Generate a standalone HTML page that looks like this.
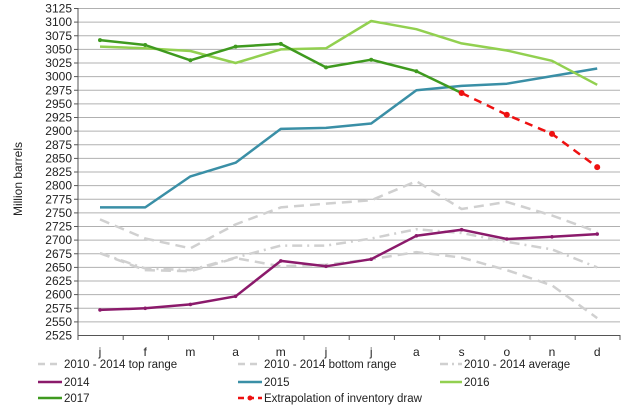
<!DOCTYPE html>
<html><head><meta charset="utf-8"><style>body{margin:0;background:#fff}svg{display:block;font-family:"Liberation Sans",sans-serif}</style></head><body>
<svg width="625" height="407" viewBox="0 0 625 407" xmlns="http://www.w3.org/2000/svg">
<g stroke="#b0b0b0" stroke-width="1">
<line x1="78" x2="620" y1="8.5" y2="8.5"/><line x1="78" x2="620" y1="22.1" y2="22.1"/><line x1="78" x2="620" y1="35.75" y2="35.75"/><line x1="78" x2="620" y1="49.4" y2="49.4"/><line x1="78" x2="620" y1="63" y2="63"/><line x1="78" x2="620" y1="76.6" y2="76.6"/><line x1="78" x2="620" y1="90.25" y2="90.25"/><line x1="78" x2="620" y1="103.9" y2="103.9"/><line x1="78" x2="620" y1="117.5" y2="117.5"/><line x1="78" x2="620" y1="131.1" y2="131.1"/><line x1="78" x2="620" y1="144.75" y2="144.75"/><line x1="78" x2="620" y1="158.4" y2="158.4"/><line x1="78" x2="620" y1="172" y2="172"/><line x1="78" x2="620" y1="185.6" y2="185.6"/><line x1="78" x2="620" y1="199.25" y2="199.25"/><line x1="78" x2="620" y1="212.9" y2="212.9"/><line x1="78" x2="620" y1="226.5" y2="226.5"/><line x1="78" x2="620" y1="240.1" y2="240.1"/><line x1="78" x2="620" y1="253.75" y2="253.75"/><line x1="78" x2="620" y1="267.4" y2="267.4"/><line x1="78" x2="620" y1="281" y2="281"/><line x1="78" x2="620" y1="294.6" y2="294.6"/><line x1="78" x2="620" y1="308.25" y2="308.25"/><line x1="78" x2="620" y1="321.9" y2="321.9"/>
</g>
<g stroke="#555" stroke-width="1">
<line x1="78" x2="78" y1="8" y2="336"/><line x1="78" x2="620" y1="335.5" y2="335.5"/>
<line x1="74" x2="78" y1="8.5" y2="8.5"/><line x1="74" x2="78" y1="22.1" y2="22.1"/><line x1="74" x2="78" y1="35.75" y2="35.75"/><line x1="74" x2="78" y1="49.4" y2="49.4"/><line x1="74" x2="78" y1="63" y2="63"/><line x1="74" x2="78" y1="76.6" y2="76.6"/><line x1="74" x2="78" y1="90.25" y2="90.25"/><line x1="74" x2="78" y1="103.9" y2="103.9"/><line x1="74" x2="78" y1="117.5" y2="117.5"/><line x1="74" x2="78" y1="131.1" y2="131.1"/><line x1="74" x2="78" y1="144.75" y2="144.75"/><line x1="74" x2="78" y1="158.4" y2="158.4"/><line x1="74" x2="78" y1="172" y2="172"/><line x1="74" x2="78" y1="185.6" y2="185.6"/><line x1="74" x2="78" y1="199.25" y2="199.25"/><line x1="74" x2="78" y1="212.9" y2="212.9"/><line x1="74" x2="78" y1="226.5" y2="226.5"/><line x1="74" x2="78" y1="240.1" y2="240.1"/><line x1="74" x2="78" y1="253.75" y2="253.75"/><line x1="74" x2="78" y1="267.4" y2="267.4"/><line x1="74" x2="78" y1="281" y2="281"/><line x1="74" x2="78" y1="294.6" y2="294.6"/><line x1="74" x2="78" y1="308.25" y2="308.25"/><line x1="74" x2="78" y1="321.9" y2="321.9"/>
<line x1="78" x2="78" y1="335" y2="340"/><line x1="123.2" x2="123.2" y1="335" y2="340"/><line x1="168.4" x2="168.4" y1="335" y2="340"/><line x1="213.6" x2="213.6" y1="335" y2="340"/><line x1="258.8" x2="258.8" y1="335" y2="340"/><line x1="304" x2="304" y1="335" y2="340"/><line x1="349.2" x2="349.2" y1="335" y2="340"/><line x1="394.4" x2="394.4" y1="335" y2="340"/><line x1="439.6" x2="439.6" y1="335" y2="340"/><line x1="484.8" x2="484.8" y1="335" y2="340"/><line x1="530" x2="530" y1="335" y2="340"/><line x1="575.2" x2="575.2" y1="335" y2="340"/><line x1="620" x2="620" y1="335" y2="340"/>
</g>
<g font-size="12" fill="#222" text-anchor="end">
<text x="72" y="12.5">3125</text><text x="72" y="26.1">3100</text><text x="72" y="39.75">3075</text><text x="72" y="53.4">3050</text><text x="72" y="67">3025</text><text x="72" y="80.6">3000</text><text x="72" y="94.25">2975</text><text x="72" y="107.9">2950</text><text x="72" y="121.5">2925</text><text x="72" y="135.1">2900</text><text x="72" y="148.75">2875</text><text x="72" y="162.4">2850</text><text x="72" y="176">2825</text><text x="72" y="189.6">2800</text><text x="72" y="203.25">2775</text><text x="72" y="216.9">2750</text><text x="72" y="230.5">2725</text><text x="72" y="244.1">2700</text><text x="72" y="257.75">2675</text><text x="72" y="271.4">2650</text><text x="72" y="285">2625</text><text x="72" y="298.6">2600</text><text x="72" y="312.25">2575</text><text x="72" y="325.9">2550</text><text x="72" y="339.5">2525</text>
</g>
<g font-size="12" fill="#222" text-anchor="middle">
<text x="100" y="356">j</text><text x="145.2" y="356">f</text><text x="190.4" y="356">m</text><text x="235.6" y="356">a</text><text x="280.8" y="356">m</text><text x="326" y="356">j</text><text x="371.2" y="356">j</text><text x="416.4" y="356">a</text><text x="461.6" y="356">s</text><text x="506.8" y="356">o</text><text x="552" y="356">n</text><text x="597.2" y="356">d</text>
</g>
<text transform="translate(22,179) rotate(-90)" font-size="12" fill="#222" text-anchor="middle">Million barrels</text>
<g fill="none" stroke-width="2.5" stroke-linejoin="round">
<polyline stroke="#d0d0d0" stroke-dasharray="10,6" points="100,219.4 145.2,238.5 190.4,248.3 235.6,224.4 280.8,207.4 326,203.6 371.2,200.3 416.4,181.2 461.6,209 506.8,201.9 552,215.5 597.2,231.9"/>
<polyline stroke="#d0d0d0" stroke-dasharray="10,6" points="100,253.2 145.2,270.1 190.4,271.2 235.6,258.1 280.8,266.3 326,264.7 371.2,259.2 416.4,252.1 461.6,257.6 506.8,270.1 552,285.4 597.2,318.1"/>
<polyline stroke="#d0d0d0" stroke-dasharray="10,5,2,5" points="100,253.2 145.2,268.4 190.4,270.1 235.6,257.6 280.8,245.6 326,245.6 371.2,238.5 416.4,229.2 461.6,233 506.8,241.8 552,249.4 597.2,267.4"/>
<polyline stroke="#8b1a6b" points="100,309.9 145.2,308.3 190.4,304.4 235.6,296.3 280.8,260.9 326,266.3 371.2,259.2 416.4,235.8 461.6,229.7 506.8,239 552,236.8 597.2,234.1"/>
<polyline stroke="#3a8fa6" points="100,207.4 145.2,207.4 190.4,176.4 235.6,162.7 280.8,128.9 326,127.9 371.2,123.5 416.4,90.3 461.6,85.9 506.8,83.7 552,76.1 597.2,68.5"/>
<polyline stroke="#92d050" points="100,46.6 145.2,48.3 190.4,51 235.6,63 280.8,49.4 326,48.3 371.2,21 416.4,29.2 461.6,43.4 506.8,50.5 552,60.8 597.2,84.8"/>
<polyline stroke="#3f9a1f" points="100,40.1 145.2,45 190.4,60.3 235.6,46.6 280.8,43.9 326,67.4 371.2,59.7 416.4,71.2 461.6,93"/>
<polyline stroke="#ee1111" stroke-dasharray="8,6" points="461.6,93 506.8,114.8 552,133.9 597.2,167.1"/>
</g>
<g fill="#ee1111"><circle cx="461.6" cy="93" r="3"/><circle cx="506.8" cy="114.8" r="3"/><circle cx="552" cy="133.9" r="3"/><circle cx="597.2" cy="167.1" r="3"/></g>
<g fill="#8b1a6b"><circle cx="100" cy="309.9" r="1.8"/><circle cx="145.2" cy="308.3" r="1.8"/><circle cx="190.4" cy="304.4" r="1.8"/><circle cx="235.6" cy="296.3" r="1.8"/><circle cx="280.8" cy="260.9" r="1.8"/><circle cx="326" cy="266.3" r="1.8"/><circle cx="371.2" cy="259.2" r="1.8"/><circle cx="416.4" cy="235.8" r="1.8"/><circle cx="461.6" cy="229.7" r="1.8"/><circle cx="506.8" cy="239" r="1.8"/><circle cx="552" cy="236.8" r="1.8"/><circle cx="597.2" cy="234.1" r="1.8"/></g>
<g fill="#3f9a1f"><circle cx="100" cy="40.1" r="2"/><circle cx="145.2" cy="45" r="2"/><circle cx="190.4" cy="60.3" r="2"/><circle cx="235.6" cy="46.6" r="2"/><circle cx="280.8" cy="43.9" r="2"/><circle cx="326" cy="67.4" r="2"/><circle cx="371.2" cy="59.7" r="2"/><circle cx="416.4" cy="71.2" r="2"/></g>
<g fill="none" stroke-width="2.5">
<line x1="38" x2="62" y1="364" y2="364" stroke="#d0d0d0" stroke-dasharray="7,5"/>
<line x1="238" x2="262" y1="364" y2="364" stroke="#d0d0d0" stroke-dasharray="7,5"/>
<line x1="440" x2="462" y1="364" y2="364" stroke="#d0d0d0" stroke-dasharray="8,4,2,4"/>
<line x1="38" x2="62" y1="382" y2="382" stroke="#8b1a6b"/>
<line x1="238" x2="262" y1="382" y2="382" stroke="#3a8fa6"/>
<line x1="440" x2="462" y1="382" y2="382" stroke="#92d050"/>
<line x1="38" x2="62" y1="398" y2="398" stroke="#3f9a1f"/>
<line x1="238" x2="262" y1="398" y2="398" stroke="#ee1111" stroke-dasharray="6,4"/>
</g>
<circle cx="250" cy="398" r="2.5" fill="#ee1111"/>
<g font-size="11.5" fill="#222">
<text x="64" y="368">2010 - 2014 top range</text>
<text x="264" y="368">2010 - 2014 bottom range</text>
<text x="464" y="368">2010 - 2014 average</text>
<text x="64" y="386">2014</text>
<text x="264" y="386">2015</text>
<text x="464" y="386">2016</text>
<text x="64" y="402">2017</text>
<text x="264" y="402">Extrapolation of inventory draw</text>
</g>
</svg>
</body></html>
